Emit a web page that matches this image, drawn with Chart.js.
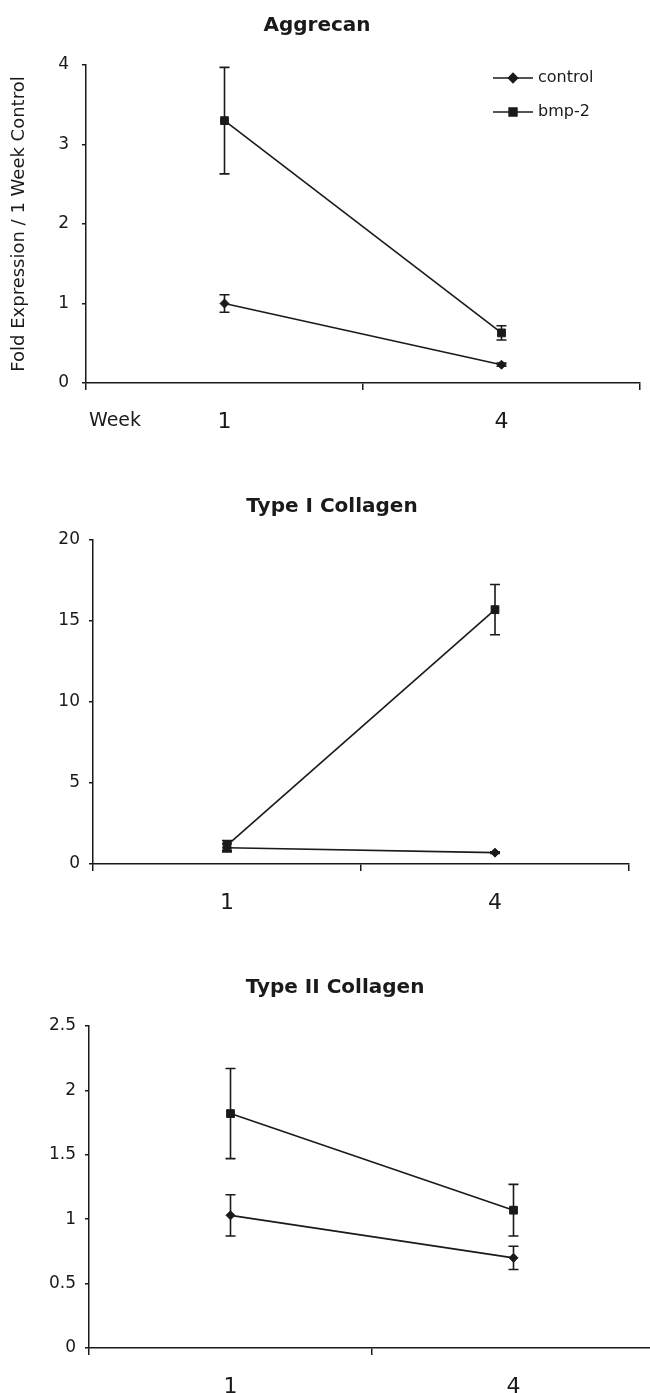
<!DOCTYPE html>
<html>
<head>
<meta charset="utf-8">
<script src="https://cdn.jsdelivr.net/npm/chart.js@4.4.1/dist/chart.umd.min.js"></script>
<style>
  html, body { margin:0; padding:0; background:#fff; overflow:hidden; width:650px; height:1393px; }
  canvas { position:absolute; }
</style>
</head>
<body>
<canvas id="aggChart"  width="656" height="443" style="left:-6px;top:0"></canvas>
<canvas id="col1Chart" width="604" height="474" style="left:35px;top:450px"></canvas>
<canvas id="col2Chart" width="650" height="478" style="left:15px;top:930px"></canvas>
<script>
/* ── data ── */
const WEEKS = ['1', '4'];
const SERIES = ['control', 'bmp-2'];

const AGG_CONTROL     = [1.0, 0.23];
const AGG_CONTROL_ERR = [0.11, 0.02];
const AGG_BMP         = [3.3, 0.63];
const AGG_BMP_ERR     = [0.67, 0.09];
const AGG_YTICKS      = [0, 1, 2, 3, 4];

const COL1_CONTROL     = [1.0, 0.7];
const COL1_CONTROL_ERR = [0.25, 0.05];
const COL1_BMP         = [1.15, 15.7];
const COL1_BMP_ERR     = [0.3, 1.55];
const COL1_YTICKS      = [0, 5, 10, 15, 20];

const COL2_CONTROL     = [1.03, 0.70];
const COL2_CONTROL_ERR = [0.16, 0.09];
const COL2_BMP         = [1.82, 1.07];
const COL2_BMP_ERR     = [0.35, 0.2];
const COL2_YTICKS      = [0, 0.5, 1, 1.5, 2, 2.5];

const INK  = '#1a1a1a';
const FONT = '"DejaVu Sans", sans-serif';

/* ── error bars, drawn through the y scale ── */
const errorBars = {
  id: 'errorBars',
  afterDatasetsDraw(chart) {
    const { ctx } = chart;
    const y = chart.scales.y;
    ctx.save();
    ctx.strokeStyle = INK;
    ctx.lineWidth = 1.6;
    chart.data.datasets.forEach((ds, i) => {
      chart.getDatasetMeta(i).data.forEach((pt, j) => {
        const e = ds.errors[j];
        if (!e) return;
        const top = y.getPixelForValue(ds.data[j] + e);
        const bot = y.getPixelForValue(ds.data[j] - e);
        ctx.beginPath();
        ctx.moveTo(pt.x, top); ctx.lineTo(pt.x, bot);
        ctx.moveTo(pt.x - 5, top); ctx.lineTo(pt.x + 5, top);
        ctx.moveTo(pt.x - 5, bot); ctx.lineTo(pt.x + 5, bot);
        ctx.stroke();
      });
    });
    ctx.restore();
  }
};

/* ── "Week" caption left of the tick labels ── */
const weekLabel = {
  id: 'weekLabel',
  afterDraw(chart) {
    const { ctx, chartArea } = chart;
    ctx.save();
    ctx.fillStyle = INK;
    ctx.font = '19px ' + FONT;
    ctx.textAlign = 'left';
    ctx.textBaseline = 'middle';
    ctx.fillText('Week', chartArea.left + 3, chartArea.bottom + 38);
    ctx.restore();
  }
};

/* ── line + marker legend in the upper right ── */
const lineLegend = {
  id: 'lineLegend',
  afterDraw(chart) {
    const { ctx, chartArea } = chart;
    ctx.save();
    chart.data.datasets.forEach((ds, i) => {
      const yy = chartArea.top + 13 + i * 34;
      const x0 = chartArea.right - 147;
      ctx.strokeStyle = INK; ctx.lineWidth = 1.6;
      ctx.beginPath(); ctx.moveTo(x0, yy); ctx.lineTo(x0 + 40, yy); ctx.stroke();
      ctx.fillStyle = INK;
      Chart.helpers.drawPoint(ctx, { pointStyle: ds.pointStyle, radius: ds.pointRadius, borderWidth: 1 }, x0 + 20, yy);
      ctx.font = '16px ' + FONT;
      ctx.textAlign = 'left';
      ctx.textBaseline = 'middle';
      ctx.fillText(ds.label, x0 + 45, yy);
    });
    ctx.restore();
  }
};

function series(data, errs, i) {
  return {
    label: SERIES[i], data, errors: errs,
    borderColor: INK, backgroundColor: INK, borderWidth: 1.6,
    pointStyle: i === 0 ? 'rectRot' : 'rect',
    pointRadius: i === 0 ? 4.5 : 5.5,
    pointBackgroundColor: INK, pointBorderColor: INK, pointBorderWidth: 1,
    tension: 0, fill: false
  };
}

function buildChart(id, cfg) {
  const t = cfg.yTicks;
  return new Chart(document.getElementById(id), {
    type: 'line',
    data: {
      labels: WEEKS,
      datasets: [series(cfg.control, cfg.controlErr, 0), series(cfg.bmp, cfg.bmpErr, 1)]
    },
    plugins: [errorBars].concat(cfg.extra || []),
    options: {
      responsive: false, animation: false,
      layout: { padding: { left: 0, right: 10, top: 0, bottom: 0 } },
      plugins: {
        legend: { display: false },
        tooltip: { enabled: false },
        title: {
          display: true, text: cfg.title, color: INK,
          font: { family: FONT, size: 20, weight: 'bold' },
          padding: { top: cfg.titleTop, bottom: cfg.titleBottom }
        }
      },
      scales: {
        x: {
          type: 'category', offset: true,
          grid: { offset: true, drawOnChartArea: false, tickLength: 7, color: INK, lineWidth: 1.5 },
          border: { color: INK, width: 1.5 },
          ticks: { color: INK, font: { family: FONT, size: 22 }, padding: 19, maxRotation: 0 },
          afterFit(s) { s.height = 60; }
        },
        y: {
          min: t[0], max: t[t.length - 1],
          ticks: {
            stepSize: t[1] - t[0], color: INK, font: { family: FONT, size: 17 }, padding: cfg.tickPad,
            callback: v => String(+v.toFixed(2))
          },
          grid: { drawOnChartArea: false, tickLength: 4, color: INK, lineWidth: 1.5 },
          border: { color: INK, width: 1.5 },
          title: {
            display: !!cfg.yTitle, text: cfg.yTitle || '', color: INK,
            font: { family: FONT, size: 18 }, padding: { top: 15, bottom: 0 }
          },
          afterFit(s) { s.width = cfg.yWidth; }
        }
      }
    }
  });
}

window.addEventListener('DOMContentLoaded', () => {
  buildChart('aggChart', {
    title: 'Aggrecan', yTitle: 'Fold Expression / 1 Week Control',
    control: AGG_CONTROL, controlErr: AGG_CONTROL_ERR, bmp: AGG_BMP, bmpErr: AGG_BMP_ERR,
    yTicks: AGG_YTICKS, yWidth: 92, tickPad: 13, titleTop: 14, titleBottom: 27,
    extra: [weekLabel, lineLegend]
  });
  buildChart('col1Chart', {
    title: 'Type I Collagen',
    control: COL1_CONTROL, controlErr: COL1_CONTROL_ERR, bmp: COL1_BMP, bmpErr: COL1_BMP_ERR,
    yTicks: COL1_YTICKS, yWidth: 58, tickPad: 9, titleTop: 45, titleBottom: 21
  });
  buildChart('col2Chart', {
    title: 'Type II Collagen',
    control: COL2_CONTROL, controlErr: COL2_CONTROL_ERR, bmp: COL2_BMP, bmpErr: COL2_BMP_ERR,
    yTicks: COL2_YTICKS, yWidth: 74, tickPad: 9, titleTop: 46, titleBottom: 26
  });
});
</script>
</body>
</html>
